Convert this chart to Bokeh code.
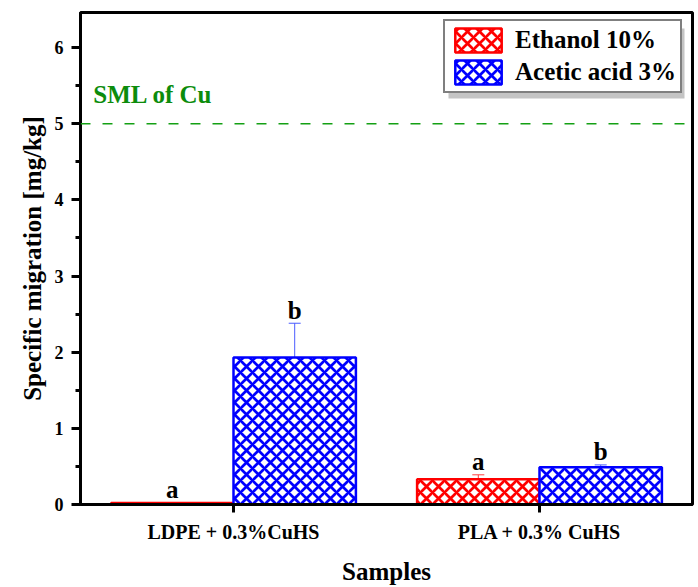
from bokeh.plotting import figure
from bokeh.models import (Range1d, FixedTicker, Span, Label, Legend, LegendItem,
                          Whisker, ColumnDataSource, TeeHead, BoxAnnotation)
from bokeh.core.properties import value
from bokeh.embed import file_html
from bokeh.resources import INLINE

samples = ["LDPE + 0.3%CuHS", "PLA + 0.3% CuHS"]
series_names = ["Ethanol 10%", "Acetic acid 3%"]
ethanol = [0.02, 0.33]
ethanol_err = [0.005, 0.06]
acetic = [1.93, 0.49]
acetic_err = [0.45, 0.03]
ethanol_letters = ["a", "a"]
acetic_letters = ["b", "b"]
sml_cu = 5.0
y_ticks = [0, 1, 2, 3, 4, 5, 6]

FONT = "Liberation Serif"
RED = "#ff0000"
BLUE = "#0000ff"
GREEN = "#0c8c0c"
BAR_W = 0.4
X0, X1, Y0, Y1 = 0.5, 2.5, 0.0, 6.46
FRAME_W, FRAME_H = 612, 492
LETTER_GAP = 0.17

pos = [i + 1 for i in range(len(samples))]
x_eth = [x - BAR_W / 2 for x in pos]
x_ace = [x + BAR_W / 2 for x in pos]

p = figure(width=698, height=587, x_range=Range1d(X0, X1), y_range=Range1d(Y0, Y1),
           output_backend="svg", toolbar_location=None,
           min_border_left=80, min_border_right=6, min_border_top=12, min_border_bottom=83)
p.background_fill_color = "white"
p.border_fill_color = "white"
p.outline_line_color = "black"
p.outline_line_width = 3
p.xgrid.visible = False
p.ygrid.visible = False

def make_source(xs, vals, errs, letters):
    return ColumnDataSource(dict(x=xs, top=vals, err=errs,
                                 upper=[v + e for v, e in zip(vals, errs)],
                                 lower=[v - e for v, e in zip(vals, errs)],
                                 lab=letters,
                                 ly=[v + e + LETTER_GAP for v, e in zip(vals, errs)]))

src_e = make_source(x_eth, ethanol, ethanol_err, ethanol_letters)
src_a = make_source(x_ace, acetic, acetic_err, acetic_letters)

r_e = p.vbar(x="x", top="top", width=BAR_W, bottom=0, source=src_e,
             fill_color="white", line_color=RED, line_width=2.5,
             hatch_pattern="x", hatch_color=RED, hatch_scale=12, hatch_weight=2.7)
r_a = p.vbar(x="x", top="top", width=BAR_W, bottom=0, source=src_a,
             fill_color="white", line_color=BLUE, line_width=2.5,
             hatch_pattern="x", hatch_color=BLUE, hatch_scale=12, hatch_weight=2.7)

for src, col in ((src_e, "#ff4040"), (src_a, "#4a5cff")):
    w = Whisker(base="x", upper="upper", lower="lower", source=src, dimension="height",
                line_color=col, line_width=1,
                upper_head=TeeHead(size=12, line_color=col, line_width=1), lower_head=None)
    p.add_layout(w)
    p.text(x="x", y="ly", text="lab", source=src, text_font=value(FONT),
           text_font_style="bold", text_font_size="25px", text_align="center",
           text_baseline="alphabetic", text_color="black")

p.add_layout(Span(location=sml_cu, dimension="width", line_color="#14a014",
                  line_dash="10 12", line_width=1.6))
p.add_layout(Label(x=0.542, y=5.2, text="SML of Cu", text_font=FONT,
                   text_font_style="bold", text_font_size="25px", text_color=GREEN))

# axes
ya = p.yaxis[0]
ya.ticker = FixedTicker(ticks=y_ticks, minor_ticks=[t + 0.5 for t in y_ticks])
ya.axis_label = "Specific migration [mg/kg]"
ya.axis_line_width = 3
ya.major_tick_line_width = 3
ya.minor_tick_line_width = 3
ya.major_tick_in = 0
ya.major_tick_out = 9
ya.minor_tick_in = 0
ya.minor_tick_out = 5
ya.major_label_text_font = FONT
ya.major_label_text_font_style = "bold"
ya.major_label_text_font_size = "18px"
ya.major_label_text_color = "black"
ya.major_label_standoff = 8
ya.axis_label_text_font = FONT
ya.axis_label_text_font_style = "bold"
ya.axis_label_text_font_size = "25px"
ya.axis_label_text_color = "black"
ya.axis_label_standoff = 6

xa = p.xaxis[0]
xa.ticker = FixedTicker(ticks=pos, minor_ticks=[])
xa.major_label_overrides = {x: s for x, s in zip(pos, samples)}
xa.axis_label = "Samples"
xa.axis_line_width = 3
xa.major_tick_line_width = 3
xa.major_tick_in = 0
xa.major_tick_out = 8
xa.major_label_text_font = FONT
xa.major_label_text_font_style = "bold"
xa.major_label_text_font_size = "20px"
xa.major_label_text_color = "black"
xa.major_label_standoff = 8
xa.axis_label_text_font = FONT
xa.axis_label_text_font_style = "bold"
xa.axis_label_text_font_size = "25px"
xa.axis_label_text_color = "black"
xa.axis_label_standoff = 12

# legend with a grey drop shadow
LEG_X, LEG_Y, LEG_W, LEG_H, SH = 363, 411, 236, 70, 5
px_x = (X1 - X0) / FRAME_W
px_y = (Y1 - Y0) / FRAME_H
p.add_layout(BoxAnnotation(left=X0 + (LEG_X + SH) * px_x, right=X0 + (LEG_X + LEG_W + SH) * px_x,
                           bottom=Y0 + (LEG_Y - SH) * px_y, top=Y0 + (LEG_Y + LEG_H - SH) * px_y,
                           fill_color="#c4c4c4", fill_alpha=1, line_alpha=0))

legend = Legend(items=[LegendItem(label=series_names[0], renderers=[r_e]),
                       LegendItem(label=series_names[1], renderers=[r_a])],
                location=(LEG_X, LEG_Y), orientation="vertical")
legend.border_line_color = "black"
legend.border_line_width = 2.5
legend.background_fill_alpha = 1
legend.label_text_font = FONT
legend.label_text_font_style = "bold"
legend.label_text_font_size = "25px"
legend.label_text_color = "black"
legend.glyph_width = 58
legend.glyph_height = 30
legend.padding = 4
legend.spacing = 2
legend.label_standoff = 8
legend.margin = 0
legend.label_height = 30
p.add_layout(legend)

open("out.html", "w").write(file_html(p, INLINE))
